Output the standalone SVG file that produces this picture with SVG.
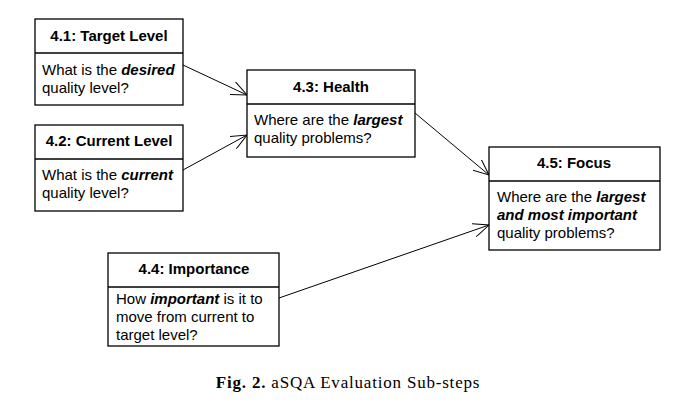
<svg xmlns="http://www.w3.org/2000/svg" width="697" height="403" viewBox="0 0 697 403">
<defs>
<style>
.box{fill:#fff;stroke:#000;stroke-width:1.3}
.div{stroke:#000;stroke-width:1.3}
.t{font-family:"Liberation Sans",Arial,sans-serif;font-size:15px;font-weight:bold;text-anchor:middle;fill:#000}
.b{font-family:"Liberation Sans",Arial,sans-serif;font-size:15px;fill:#000}
.e{font-weight:bold;font-style:italic}
.c{stroke:#000;stroke-width:1;fill:none;marker-end:url(#arr)}
.cap{font-family:"Liberation Serif","Times New Roman",serif;font-size:17px;letter-spacing:0.8px;fill:#000;text-anchor:middle}
</style>
<marker id="arr" viewBox="0 0 16 14" refX="16" refY="7" markerWidth="16" markerHeight="14" markerUnits="userSpaceOnUse" orient="auto">
<path d="M0,0 L16,7 L0,14" fill="none" stroke="#000" stroke-width="1"/>
</marker>
</defs>
<g id="connectors">
<line class="c" x1="183" y1="65" x2="247" y2="95"/>
<line class="c" x1="183" y1="170" x2="247" y2="135"/>
<line class="c" x1="415" y1="113" x2="489" y2="175"/>
<line class="c" x1="279" y1="298" x2="489" y2="225"/>
</g>
<g id="n41">
<rect class="box" x="35" y="19" width="148" height="86"/>
<line class="div" x1="35" y1="53" x2="183" y2="53"/>
<text class="t" x="109" y="41">4.1: Target Level</text>
<text class="b" x="42" y="75">What is the <tspan class="e">desired</tspan></text>
<text class="b" x="42" y="93">quality level?</text>
</g>
<g id="n42">
<rect class="box" x="35" y="125" width="148" height="86"/>
<line class="div" x1="35" y1="159" x2="183" y2="159"/>
<text class="t" x="109" y="146">4.2: Current Level</text>
<text class="b" x="42" y="180">What is the <tspan class="e">current</tspan></text>
<text class="b" x="42" y="198">quality level?</text>
</g>
<g id="n43">
<rect class="box" x="247" y="70" width="168" height="87"/>
<line class="div" x1="247" y1="104" x2="415" y2="104"/>
<text class="t" x="331" y="92">4.3: Health</text>
<text class="b" x="254" y="125">Where are the <tspan class="e">largest</tspan></text>
<text class="b" x="254" y="143">quality problems?</text>
</g>
<g id="n45">
<rect class="box" x="489" y="147" width="171" height="103"/>
<line class="div" x1="489" y1="181" x2="660" y2="181"/>
<text class="t" x="574" y="168">4.5: Focus</text>
<text class="b" x="497" y="202">Where are the <tspan class="e">largest</tspan></text>
<text class="b e" x="497" y="220">and most important</text>
<text class="b" x="497" y="238">quality problems?</text>
</g>
<g id="n44">
<rect class="box" x="108" y="253" width="171" height="93"/>
<line class="div" x1="108" y1="287" x2="279" y2="287"/>
<text class="t" x="194" y="274">4.4: Importance</text>
<text class="b" x="116" y="304">How <tspan class="e">important</tspan> is it to</text>
<text class="b" x="116" y="322">move from current to</text>
<text class="b" x="116" y="340">target level?</text>
</g>
<text class="cap" x="348" y="388"><tspan font-weight="bold">Fig. 2.</tspan> aSQA Evaluation Sub-steps</text>
</svg>
